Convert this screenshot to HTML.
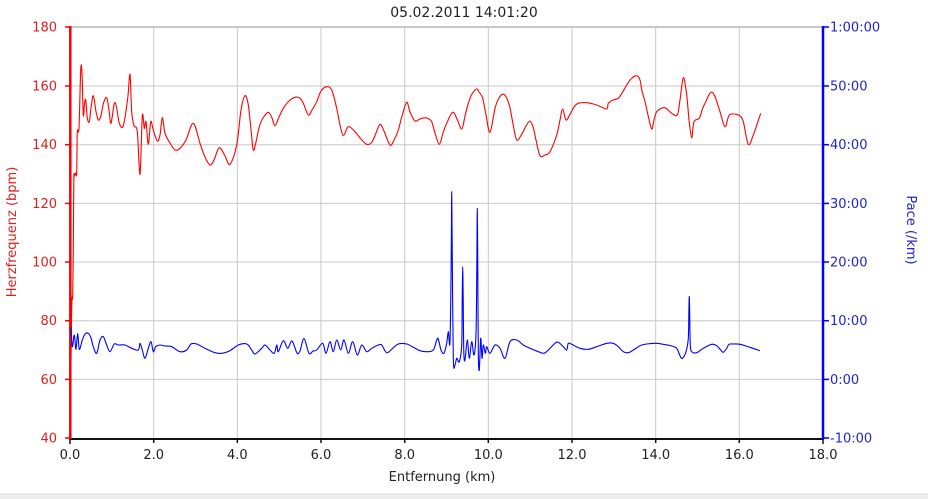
<!DOCTYPE html>
<html>
<head>
<meta charset="utf-8">
<style>
html,body{margin:0;padding:0;background:#fff;}
svg{display:block;}
text{font-family:"DejaVu Sans","Liberation Sans",sans-serif;font-size:13px;}
</style>
</head>
<body>
<svg width="928" height="499" viewBox="0 0 928 499" xmlns="http://www.w3.org/2000/svg">
<rect x="0" y="0" width="928" height="499" fill="#fff"/>
<!-- title -->
<text x="464" y="17" text-anchor="middle" fill="#222" style="font-size:14px">05.02.2011 14:01:20</text>
<!-- grid -->
<g stroke="#c8c8c8" stroke-width="1">
<line x1="70" y1="27" x2="823" y2="27" stroke-width="2"/>
<line x1="70" y1="86" x2="823" y2="86"/>
<line x1="70" y1="144.7" x2="823" y2="144.7"/>
<line x1="70" y1="203.4" x2="823" y2="203.4"/>
<line x1="70" y1="262" x2="823" y2="262"/>
<line x1="70" y1="320.7" x2="823" y2="320.7"/>
<line x1="70" y1="379.4" x2="823" y2="379.4"/>
<line x1="153.7" y1="27" x2="153.7" y2="438"/>
<line x1="237.3" y1="27" x2="237.3" y2="438"/>
<line x1="321" y1="27" x2="321" y2="438"/>
<line x1="404.7" y1="27" x2="404.7" y2="438"/>
<line x1="488.3" y1="27" x2="488.3" y2="438"/>
<line x1="572" y1="27" x2="572" y2="438"/>
<line x1="655.7" y1="27" x2="655.7" y2="438"/>
<line x1="739.3" y1="27" x2="739.3" y2="438"/>
</g>
<!-- bottom axis -->
<line x1="69" y1="439" x2="824" y2="439" stroke="#111" stroke-width="2"/>
<g stroke="#111" stroke-width="1.5">
<line x1="70" y1="438" x2="70" y2="444"/>
<line x1="153.7" y1="438" x2="153.7" y2="443"/>
<line x1="237.3" y1="438" x2="237.3" y2="443"/>
<line x1="321" y1="438" x2="321" y2="443"/>
<line x1="404.7" y1="438" x2="404.7" y2="443"/>
<line x1="488.3" y1="438" x2="488.3" y2="443"/>
<line x1="572" y1="438" x2="572" y2="443"/>
<line x1="655.7" y1="438" x2="655.7" y2="443"/>
<line x1="739.3" y1="438" x2="739.3" y2="443"/>
<line x1="823" y1="438" x2="823" y2="444"/>
</g>
<g fill="#222" text-anchor="middle">
<text x="70" y="459">0.0</text>
<text x="153.7" y="459">2.0</text>
<text x="237.3" y="459">4.0</text>
<text x="321" y="459">6.0</text>
<text x="404.7" y="459">8.0</text>
<text x="488.3" y="459">10.0</text>
<text x="572" y="459">12.0</text>
<text x="655.7" y="459">14.0</text>
<text x="739.3" y="459">16.0</text>
<text x="823" y="459">18.0</text>
</g>
<text x="442" y="481" text-anchor="middle" fill="#222">Entfernung (km)</text>

<!-- left axis -->
<line x1="70.3" y1="26" x2="70.3" y2="439" stroke="#ff0000" stroke-width="2.5"/>
<g stroke="#ff0000" stroke-width="1.5">
<line x1="65" y1="27" x2="71" y2="27"/>
<line x1="65" y1="86" x2="70" y2="86"/>
<line x1="65" y1="144.7" x2="70" y2="144.7"/>
<line x1="65" y1="203.4" x2="70" y2="203.4"/>
<line x1="65" y1="262" x2="70" y2="262"/>
<line x1="65" y1="320.7" x2="70" y2="320.7"/>
<line x1="65" y1="379.4" x2="70" y2="379.4"/>
<line x1="65" y1="438" x2="70" y2="438"/>
</g>
<g fill="#dd2020" text-anchor="end">
<text x="57" y="31.5">180</text>
<text x="57" y="90.5">160</text>
<text x="57" y="149.2">140</text>
<text x="57" y="207.9">120</text>
<text x="57" y="266.5">100</text>
<text x="57" y="325.2">80</text>
<text x="57" y="383.9">60</text>
<text x="57" y="442.5">40</text>
</g>
<text transform="translate(16,232) rotate(-90)" text-anchor="middle" fill="#dd2020">Herzfrequenz (bpm)</text>

<!-- right axis -->
<line x1="823" y1="26" x2="823" y2="439" stroke="#0000ff" stroke-width="2.5"/>
<g stroke="#0000ff" stroke-width="1.5">
<line x1="822" y1="27" x2="829" y2="27"/>
<line x1="823" y1="86" x2="829" y2="86"/>
<line x1="823" y1="144.7" x2="829" y2="144.7"/>
<line x1="823" y1="203.4" x2="829" y2="203.4"/>
<line x1="823" y1="262" x2="829" y2="262"/>
<line x1="823" y1="320.7" x2="829" y2="320.7"/>
<line x1="823" y1="379.4" x2="829" y2="379.4"/>
<line x1="823" y1="438" x2="829" y2="438"/>
</g>
<g fill="#2424cc" text-anchor="start">
<text x="830" y="31.5">1:00:00</text>
<text x="830" y="90.5">50:00</text>
<text x="830" y="149.2">40:00</text>
<text x="830" y="207.9">30:00</text>
<text x="830" y="266.5">20:00</text>
<text x="830" y="325.2">10:00</text>
<text x="830" y="383.9">0:00</text>
<text x="830" y="442.5">-10:00</text>
</g>
<text transform="translate(907,230) rotate(90)" text-anchor="middle" fill="#2424cc">Pace (/km)</text>

<!-- heart rate series -->
<polyline class="smooth" fill="none" stroke="#ff0000" stroke-width="1.1" stroke-linejoin="round" points="70.5,380 71,360 71.5,320 72,298 72.7,296 73.3,250 73.8,180 74.5,176 75.7,173 76.7,173 77.3,132 79,128 80.7,70 82,73 83.3,115 84.5,104 85.7,100 87.3,118 89.3,121.7 91,108 93.3,95.7 96,111.7 98.3,120 100.7,116.7 103.5,103 106.7,97.7 109,110 111,123.3 114.3,103.3 116.7,108.3 119.3,123.3 123.3,125.7 127.7,98.3 130,74.3 131.7,111.7 134,125.7 137.3,131.7 140,174.3 142.3,115.7 144.3,128.3 146,121.7 148.3,144.3 150.7,121.7 153.3,130 157.3,141 160,135 162.3,117.7 165,133.3 170,143 175,150 180,148.3 186,140 193.3,123.3 200,143.3 205,157 210,165 214,160 219.3,147.7 225,156 230,164.3 236.7,145 241,110 245,95.7 248.3,105 251,130 253.3,150 256,142 259.3,126.7 263,118 268.3,112.3 272,118 275,125.7 279,117 283.3,108.3 289,101 295,97.3 300,98.3 303.3,103.3 308.3,115 312,110 316.7,101.7 321,91 326.7,86.7 331.7,90 336.7,108.3 340,125 343.3,135.7 348.3,126.7 355,131.7 361,139 366.7,144.3 371.7,142.3 376,133 380,124.3 384,131 390,145 394,140 398.3,130 402,116 406.7,102.3 410,112 415,121 420,119 425,117.7 429,119 431.7,121.7 435,133 439.3,144.3 443,133 446.7,123.3 452.7,112.3 457,119 461.7,129 465,116 468.3,103.3 472,94 476.7,89 479,92 482.7,98.3 486,115 490,132.3 495,108.3 499,98 504,94.3 509.3,105 513,124 516.7,140 521.7,134.3 526,126 530,121 533.3,127.7 536,140 540,155.7 545,155 550,151.7 556.7,135 560,120 562.7,109 566,120 570,114.3 574,107 578.3,103.3 586.7,102.7 596.7,105 606.7,109 608.3,103.3 613.3,100 618.3,98.3 622,93 626.7,85 631,79 636.7,75.7 640,80 642,91 645,101.7 648,115 651.7,129 654,120 656.7,111.7 663.3,107.7 667,109 671.7,113.3 677.3,115 680,100 683.3,77.7 686.7,95 689,120 691.7,137.7 694,121.7 699.3,118.3 702,110 705,103.3 710.7,92.3 715,96.7 720,111.7 725,126.7 729.3,115 736.7,114.3 740,116 743.3,121.7 748.3,144.3 753.3,135 760.7,113.3"/>

<!-- pace series -->
<polyline class="smooth" fill="none" stroke="#0000ff" stroke-width="1.1" stroke-linejoin="round" points="71,327 72.3,346.7 74.3,335 76,349.3 77.7,333.3 79.3,349.3 82.3,340 85,334 88.3,333.3 91,338 93.3,346.7 96.7,353.3 100,340 103.3,336.7 106.7,345 110,351.7 114.3,344 118.3,345 125,345 131.7,348.3 138.3,350 140,343.3 142.3,350 145,358.3 148.3,348.3 151,341.7 153.3,351.7 155.7,346.7 160,345 165,346 171.7,346.7 180,351.7 186.7,350 191,344 196.7,344 205,348.3 215,352.7 221.7,353.3 230,350.7 238.3,345 246.7,344 251.7,350 255,354 261.7,348.3 265,345 270,350 274.3,353.3 276.7,345 278.3,351.7 283.3,340.7 287.7,348.3 292,341 297,353 300,351 304,338.5 309,353.3 313,351 316.7,350 322.7,343.3 326,353.3 330,341.7 333.3,351.7 336.7,340 340.7,350 344,340 348.3,353.3 352.7,341.7 357.3,355 361.7,345 366.7,351.7 371.7,348.3 378.3,345 381.7,345 386.7,352.7 392.7,348.3 398.3,344 406.7,344 413.3,347.3 420,350.7 426.7,351.7 433.3,350 436.7,340 438.3,339 441,350 444,353.3 446.7,343.3 448.3,331.7 450,341.7 451.2,260 451.7,191.7 452.3,260 453.3,358.3 455,365 456.7,358.3 459.3,361.7 461.7,345 462.2,300 462.7,266.7 463.2,300 463.8,351.7 465,360 467.3,340 469.3,358.3 471.7,341.7 474,355 476,333.3 476.8,270 477.3,208.3 477.8,270 478.3,351.7 479.3,370 480.7,338.3 482,358.3 483.3,345 485.3,353.3 486.7,346.7 490,353.3 495,345 500,348.3 505,358.3 510,341.7 516.7,340 523.3,345 530,348.3 538.3,351.7 544,353.3 548.3,350 555,343.3 558.3,342.3 563.3,346.7 566.7,350 568.3,343.3 571.7,344.3 580,348.3 588.3,349.3 596.7,346.7 606.7,343.3 613.3,343.3 618.3,346.7 623.3,351.7 628.3,352.7 635,349 641.7,345 655,343.3 663.3,344.3 671.7,346 676.7,348.3 680,355.7 682.3,358.3 686,351.7 688.3,338.3 688.9,310 689.3,296.7 689.8,320 690.3,345 691.7,351.7 696.7,352.7 703.3,348.3 711.7,344.3 716.7,345.7 720.7,350 723.3,352.3 726.7,348.3 729,344.3 733.3,344 740,344.3 750,347.3 760,350.7"/>

<!-- bottom gray bar -->
<rect x="0" y="494" width="928" height="5" fill="#ececec"/>
<line x1="0" y1="494" x2="928" y2="494" stroke="#dcdcdc" stroke-width="1"/>
</svg>
<script>
(function(){
  var NS="http://www.w3.org/2000/svg";
  var lines=document.querySelectorAll("polyline.smooth");
  for(var k=0;k<lines.length;k++){
    var pl=lines[k];
    var raw=pl.getAttribute("points").trim().split(/\s+/);
    var p=[];
    for(var i=0;i<raw.length;i++){var a=raw[i].split(",");p.push([+a[0],+a[1]]);}
    var d="M"+p[0][0]+","+p[0][1];
    for(var i=0;i<p.length-1;i++){
      var p0=p[i>0?i-1:i],p1=p[i],p2=p[i+1],p3=p[i+2<p.length?i+2:i+1];
      var t=0.5/3*2; // tension ~ 1/3 of catmull-rom factor
      var c1x=p1[0]+(p2[0]-p0[0])*t/2, c1y=p1[1]+(p2[1]-p0[1])*t/2;
      var c2x=p2[0]-(p3[0]-p1[0])*t/2, c2y=p2[1]-(p3[1]-p1[1])*t/2;
      // clamp x to avoid loops
      if(c1x<p1[0])c1x=p1[0]; if(c1x>p2[0])c1x=p2[0];
      if(c2x<p1[0])c2x=p1[0]; if(c2x>p2[0])c2x=p2[0];
      d+=" C"+c1x.toFixed(2)+","+c1y.toFixed(2)+" "+c2x.toFixed(2)+","+c2y.toFixed(2)+" "+p2[0]+","+p2[1];
    }
    var path=document.createElementNS(NS,"path");
    path.setAttribute("d",d);
    path.setAttribute("fill","none");
    path.setAttribute("stroke",pl.getAttribute("stroke"));
    path.setAttribute("stroke-width",pl.getAttribute("stroke-width"));
    path.setAttribute("stroke-linejoin","round");
    pl.parentNode.replaceChild(path,pl);
  }
})();
</script>
</body>
</html>
